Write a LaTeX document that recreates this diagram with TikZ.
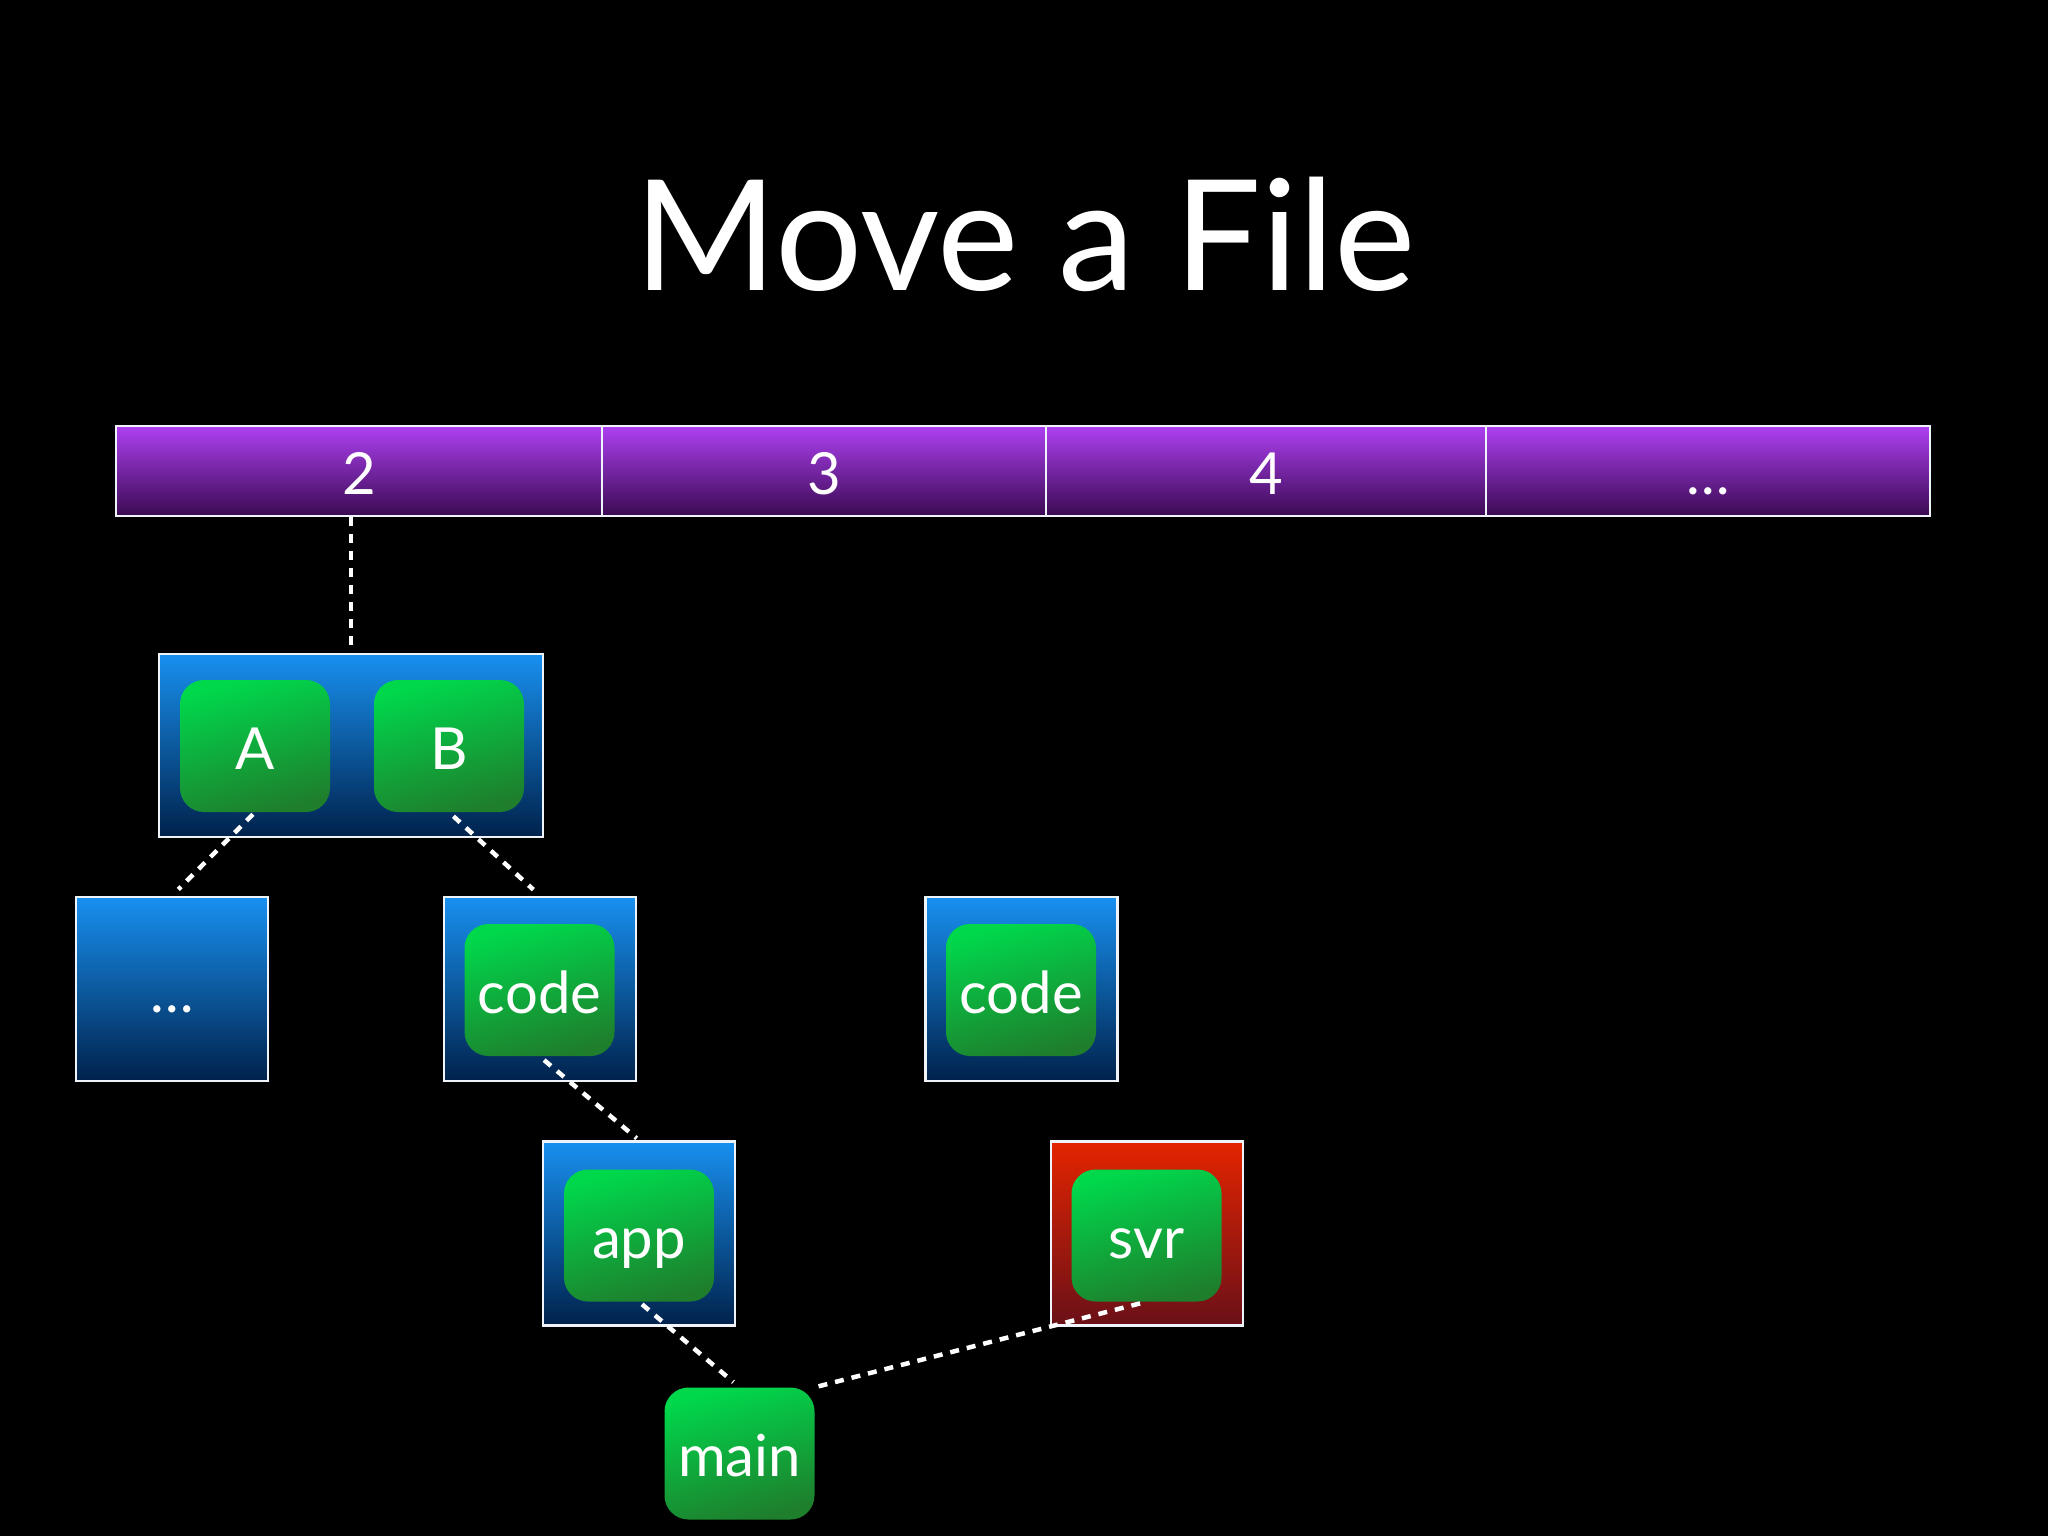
\documentclass[tikz,border=0pt]{standalone}
\usepackage{fontspec}
\setmainfont{Lato}
\definecolor{purpT}{HTML}{AE40F2}
\definecolor{purpB}{HTML}{3A0A52}
\definecolor{blueT}{HTML}{1890F0}
\definecolor{blueB}{HTML}{00224C}
\definecolor{greenT}{HTML}{00D84C}
\definecolor{greenB}{HTML}{1E7E2C}
\definecolor{redT}{HTML}{E42400}
\definecolor{redB}{HTML}{6A1018}
\definecolor{edge}{HTML}{EEF4FA}
\tikzset{
  lbl/.style={text=white, font=\fontsize{58}{60}\selectfont, text height=58pt, text depth=12pt},
  barseg/.style={lbl, draw=edge, line width=2.5pt, top color=purpT, bottom color=purpB,
    minimum height=90pt, inner sep=0pt},
  treebox/.style={draw=edge, line width=2.5pt, top color=blueT, bottom color=blueB,
    minimum width=192pt, minimum height=184pt, inner sep=0pt, lbl},
  redbox/.style={treebox, top color=redT, bottom color=redB},
  blob/.style={lbl, rounded corners=24pt, top color=greenT, bottom color=greenB,
    shading angle=15, minimum width=150pt, minimum height=132pt, inner sep=0pt},
  link/.style={draw=white, line width=4.5pt, dash pattern=on 9pt off 8pt},
}
\begin{document}
\begin{tikzpicture}[x=1pt, y=-1pt]
  \fill[black] (0,0) rectangle (2048,1536);
  \useasboundingbox (0,0) rectangle (2048,1536);

  \node[anchor=base, text=white, font=\fontsize{154}{160}\selectfont] (title) at (1025,290) {Move a File};

  \node[barseg, minimum width=486pt] (s2) at (359,471) {2};
  \node[barseg, minimum width=444pt] (s3) at (824,471) {3};
  \node[barseg, minimum width=440pt] (s4) at (1266,471) {4};
  \node[barseg, minimum width=444pt] (s5) at (1708,471) {\ldots};

  \node[treebox, minimum width=384pt, minimum height=183pt] (AB) at (351,745.5) {};
  \node[blob] (A) at (255,746) {A};
  \node[blob] (B) at (449,746) {B};

  \node[treebox] (dots) at (172,989) {\ldots};
  \node[treebox] (c1box) at (540,989) {};
  \node[blob] (code1) at (539.5,990) {code};
  \node[treebox] (c2box) at (1021.5,989) {};
  \node[blob] (code2) at (1021,990) {code};

  \node[treebox] (appbox) at (639,1233.5) {};
  \node[blob] (app) at (639,1235.5) {app};
  \node[redbox] (svrbox) at (1147,1233.5) {};
  \node[blob] (svr) at (1146.5,1235.5) {svr};

  \node[blob] (main) at (739.5,1453.5) {main};

  \draw[link] (AB.north |- s2.south) -- (AB.north);
  \draw[link, shorten <=3pt, shorten >=9pt] (A.south) -- (dots.north);
  \draw[link, shorten <=6pt, shorten >=9pt] (B.south) -- (c1box.north);
  \draw[link, shorten <=6pt, shorten >=3pt] (code1.south) -- (appbox.north);
  \draw[link, shorten <=4pt, shorten >=8pt] (app.south) -- (main.north);
  \draw[link, shorten <=4pt] (main.north east) -- (svr.south);
\end{tikzpicture}
\end{document}
